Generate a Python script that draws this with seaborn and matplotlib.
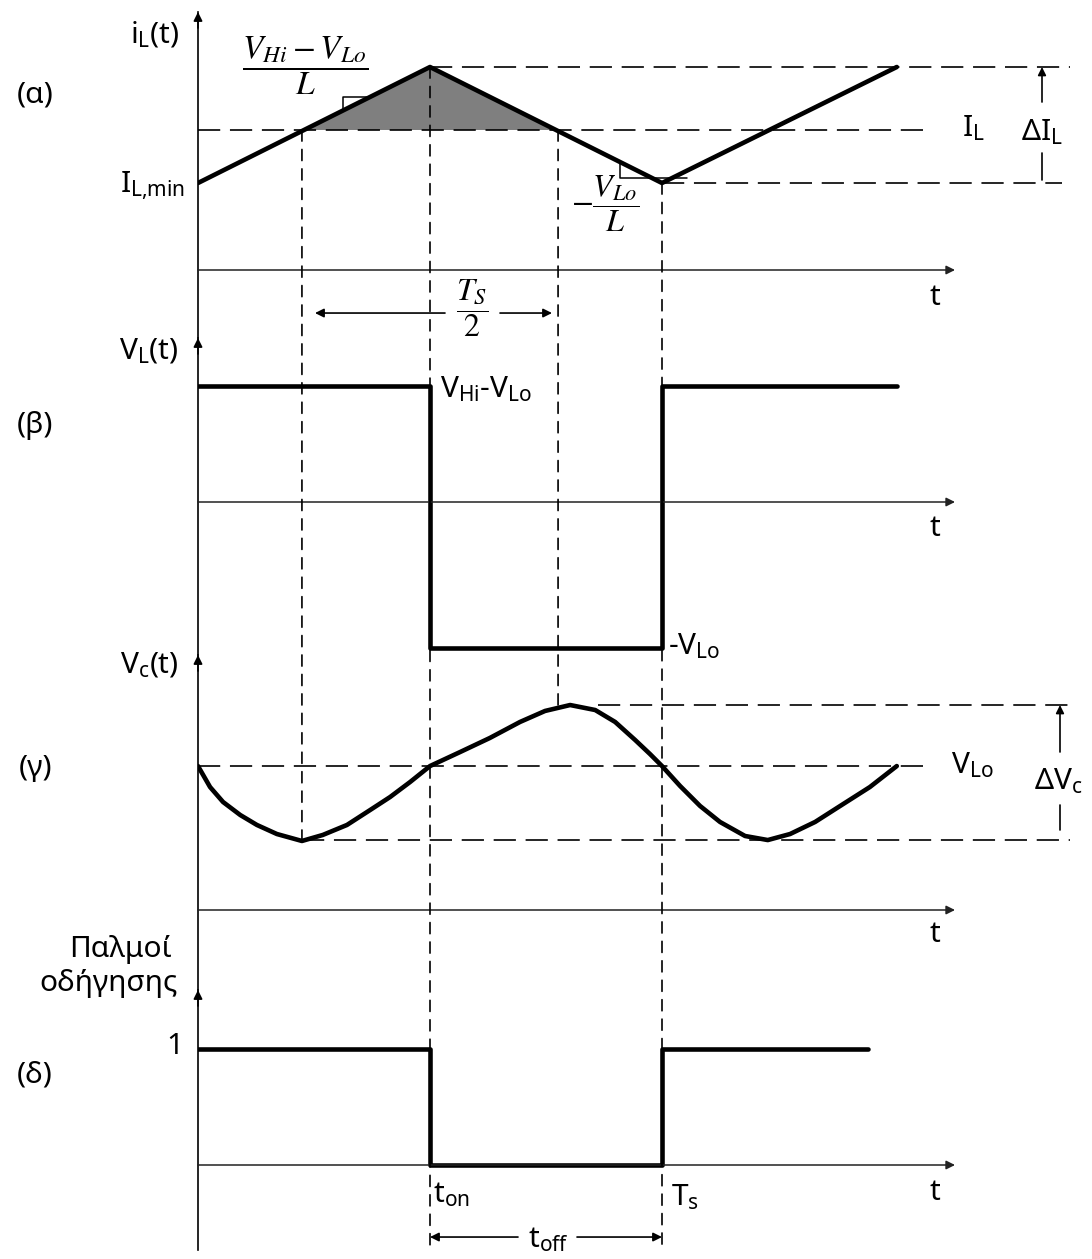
"""
    Buck converter waveforms: inductor current, inductor voltage,
    capacitor voltage and gate pulses over one switching period.
"""
import seaborn as sns
import matplotlib.pyplot as plt
from matplotlib.patches import ConnectionPatch

sns.set_theme(style="white")
plt.rcParams['font.family'] = ['Noto Sans', 'DejaVu Sans']
plt.rcParams['mathtext.fontset'] = 'stix'
plt.rcParams['lines.scale_dashes'] = False
plt.rcParams['lines.solid_joinstyle'] = 'round'

#---- Data (time in switching periods) ----#
T_ON = 0.5
T_S = 1.0
T_A = 0.224          # i_L crosses its mean while rising
T_B = 0.776          # i_L crosses its mean while falling

IL_T = [0.0, 0.5, 1.0, 1.506]
IL_V = [0.75, 1.75, 0.75, 1.75]
I_MIN, I_MAX, I_MEAN = 0.75, 1.75, 1.207

VL_T = [0.0, 0.5, 0.5, 1.0, 1.0, 1.506]
VL_V = [1.0, 1.0, -1.26, -1.26, 1.0, 1.0]

VC_T = [0.0, 0.026, 0.054, 0.091, 0.127, 0.170, 0.224, 0.269, 0.321, 0.371,
        0.414, 0.457, 0.5, 0.565, 0.629, 0.694, 0.748, 0.802, 0.856, 0.899,
        0.942, 0.974, 1.0, 1.039, 1.082, 1.125, 1.179, 1.228, 1.276, 1.330,
        1.384, 1.448, 1.506]
VC_V = [1.241, 1.060, 0.931, 0.819, 0.733, 0.655, 0.595, 0.647, 0.733, 0.862,
        0.974, 1.103, 1.241, 1.362, 1.483, 1.621, 1.716, 1.767, 1.724, 1.621,
        1.466, 1.345, 1.241, 1.069, 0.897, 0.759, 0.638, 0.603, 0.655, 0.759,
        0.897, 1.060, 1.241]
V_LO, VC_MAX, VC_MIN = 1.241, 1.767, 0.603
VC_AT_TB = 1.75

G_T = [0.0, 0.5, 0.5, 1.0, 1.0, 1.444]
G_V = [1, 1, 0, 0, 1, 1]

#---- Layout (pixels) ----#
W, H = 1092, 1259
X0 = 198            # pixel of t = 0
XPX = 464           # pixels per period
YPX = 116           # pixels per unit on every panel
T_END = (955 - X0) / XPX
FS = 21.5
WAVE = dict(color='black', linewidth=3.3, estimator=None, sort=False, legend=False)
VDASH = (0, (8, 6))
HDASH = (0, (16, 7))

fig = plt.figure(figsize=(W / 100, H / 100), dpi=100)


def make_panel(top, bottom, zero):
    ax = fig.add_axes([X0 / W, 1 - bottom / H, (W - X0) / W, (bottom - top) / H])
    ax.set_xlim(0, (W - X0) / XPX)
    ax.set_ylim((zero - bottom) / YPX, (zero - top) / YPX)
    ax.set_xticks([])
    ax.set_yticks([])
    ax.set_xlabel('')
    ax.set_ylabel('')
    for s in ['top', 'right', 'bottom']:
        ax.spines[s].set_visible(False)
    ax.spines['left'].set_color('black')
    ax.spines['left'].set_linewidth(1.2)
    ax.patch.set_alpha(0)
    ax.annotate('', xy=(T_END, 0), xytext=(0, 0),
                arrowprops=dict(arrowstyle='-|>', color='#222222', lw=1.1,
                                mutation_scale=13, shrinkA=0, shrinkB=0))
    ax.annotate('', xy=(0, 1), xycoords='axes fraction',
                xytext=(0, 1 - 16 / (bottom - top)), textcoords='axes fraction',
                arrowprops=dict(arrowstyle='-|>', color='black', lw=1.2,
                                mutation_scale=13, shrinkA=0, shrinkB=0))
    return ax


ax_a = make_panel(12, 338, 270)
ax_b = make_panel(338, 655, 502)
ax_c = make_panel(655, 990, 910)
ax_d = make_panel(990, 1250, 1165)


def hdash(ax, y, t0, t1):
    ax.plot([t0, t1], [y, y], color='black', lw=1.2, linestyle=HDASH)


def vdash(axA, yA, axB, yB, t):
    con = ConnectionPatch(xyA=(t, yA), coordsA=axA.transData,
                          xyB=(t, yB), coordsB=axB.transData,
                          color='black', lw=1.2, linestyle=VDASH)
    fig.add_artist(con)


def double_arrow(ax, y, left, right, t_from, t_to):
    for a, b in [(left, t_from), (right, t_to)]:
        ax.annotate('', xy=(b, y), xytext=(a, y),
                    arrowprops=dict(arrowstyle='-|>', color='black', lw=1.2,
                                    mutation_scale=13, shrinkA=0, shrinkB=0))


def px_text(x, y, s, size=FS, ha='center', va='center', **kw):
    fig.text(x / W, 1 - y / H, s, fontsize=size, ha=ha, va=va, color='black', **kw)


#---- (a) inductor current ----#
ax_a.fill([T_A, T_ON, T_B], [I_MEAN, I_MAX, I_MEAN], color='#7f7f7f', lw=0)
sns.lineplot(x=IL_T, y=IL_V, ax=ax_a, **WAVE)
hdash(ax_a, I_MAX, T_ON, (1070 - X0) / XPX)
hdash(ax_a, I_MEAN, 0, (925 - X0) / XPX)
hdash(ax_a, I_MIN, T_S, (1062 - X0) / XPX)
t_d = (1042 - X0) / XPX
ax_a.annotate('', xy=(t_d, I_MAX), xytext=(t_d, 1.448),
              arrowprops=dict(arrowstyle='-|>', color='black', lw=1.2,
                              mutation_scale=12, shrinkA=0, shrinkB=0))
ax_a.plot([t_d, t_d], [1.009, 0.776], color='black', lw=1.2)
# slope markers
ax_a.plot([0.3125, 0.3125, 0.3705], [1.379, 1.491, 1.491], color='black', lw=1.1)
ax_a.plot([0.909, 0.909, 1.054], [0.931, 0.793, 0.793], color='black', lw=1.1)
double_arrow(ax_a, -0.371, (445 - X0) / XPX, (500 - X0) / XPX,
             (315 - X0) / XPX, (552 - X0) / XPX)

#---- (b) inductor voltage ----#
sns.lineplot(x=VL_T, y=VL_V, ax=ax_b, **WAVE)

#---- (c) capacitor voltage ----#
sns.lineplot(x=VC_T, y=VC_V, ax=ax_c, **WAVE)
hdash(ax_c, VC_MAX, (598 - X0) / XPX, (1070 - X0) / XPX)
hdash(ax_c, V_LO, 0, (925 - X0) / XPX)
hdash(ax_c, VC_MIN, T_A, (1070 - X0) / XPX)
t_v = (1060 - X0) / XPX
ax_c.annotate('', xy=(t_v, VC_MAX), xytext=(t_v, 1.362),
              arrowprops=dict(arrowstyle='-|>', color='black', lw=1.2,
                              mutation_scale=12, shrinkA=0, shrinkB=0))
ax_c.plot([t_v, t_v], [0.905, 0.69], color='black', lw=1.2)

#---- (d) gate pulses ----#
sns.lineplot(x=G_T, y=G_V, ax=ax_d, **WAVE)
double_arrow(ax_d, -0.621, (518 - X0) / XPX, (577 - X0) / XPX, T_ON, T_S)

#---- Vertical guide lines across panels ----#
d_low = ax_d.get_ylim()[0]
vdash(ax_a, I_MEAN, ax_c, VC_MIN, T_A)
vdash(ax_a, I_MAX, ax_d, d_low, T_ON)
vdash(ax_a, I_MEAN, ax_c, VC_AT_TB, T_B)
vdash(ax_a, I_MIN, ax_d, d_low, T_S)

#---- Labels ----#
for lab, y in [('(α)', 95), ('(β)', 425), ('(γ)', 768), ('(δ)', 1075)]:
    px_text(35, y, lab)
for y in [297, 528, 935, 1192]:
    px_text(935, y, 't')

px_text(155, 35, r'$\mathregular{i_L(t)}$')
px_text(185, 185, r'$\mathregular{I_{L{,}min}}$', ha='right')
px_text(973, 128, r'$\mathregular{I_L}$')
px_text(1042, 132, r'$\mathregular{ΔI_L}$')
px_text(149, 351, r'$\mathregular{V_L(t)}$')
px_text(440, 389, r'$\mathregular{V_{Hi}‐V_{Lo}}$', ha='left')
px_text(668, 646, r'$\mathregular{‐V_{Lo}}$', ha='left')
px_text(149, 665, r'$\mathregular{V_c(t)}$')
px_text(972, 765, r'$\mathregular{V_{Lo}}$')
px_text(1058, 781, r'$\mathregular{ΔV_c}$')
px_text(120, 950, 'Παλμοί')
px_text(109, 983, 'οδήγησης')
px_text(183, 1047, '1', ha='right')
px_text(433, 1195, r'$\mathregular{t_{on}}$', ha='left')
px_text(671, 1197, r'$\mathregular{T_s}$', ha='left')
px_text(548, 1240, r'$\mathregular{t_{off}}$')

px_text(305, 66, r'$\dfrac{V_{Hi}-V_{Lo}}{L}$', size=24)
px_text(605, 204, r'$-\dfrac{V_{Lo}}{L}$', size=23)
px_text(472, 308, r'$\dfrac{T_S}{2}$', size=23)

fig.savefig('out.png', dpi=100)
plt.close(fig)
